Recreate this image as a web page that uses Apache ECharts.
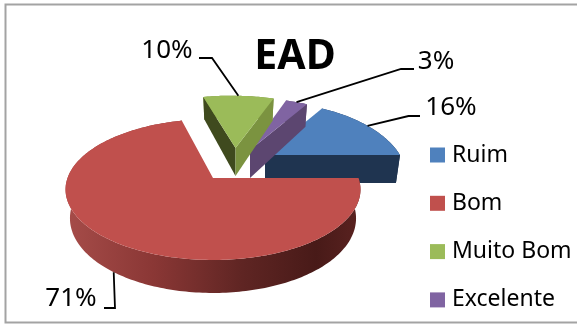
<!DOCTYPE html>
<html>
<head>
<meta charset="utf-8">
<style>html,body{margin:0;padding:0;background:#fff}#c{width:577px;height:325px}</style>
<script src="https://cdn.jsdelivr.net/npm/echarts@6/dist/echarts.min.js"></script>
</head>
<body>
<div id="c"></div>
<script>
var categories = ['Ruim', 'Bom', 'Muito Bom', 'Excelente'];
var percentValues = [16, 71, 10, 3];
var percentLabels = ['16%', '71%', '10%', '3%'];
var sliceColors = ['#4f81bd', '#c0504d', '#9bbb59', '#8064a2'];
var clockwiseOrder = ['Bom', 'Muito Bom', 'Excelente', 'Ruim'];

var FONT = '"Noto Sans", sans-serif';
var total = percentValues.reduce(function (a, b) { return a + b; }, 0);
var sweep = {};
(function () {
  var acc = 0;
  clockwiseOrder.forEach(function (n) {
    var v = percentValues[categories.indexOf(n)];
    sweep[n] = [acc / total * Math.PI * 2, (acc + v) / total * Math.PI * 2];
    acc += v;
  });
})();

var geometry = {
  'Ruim':      { ax: 265,   ay: 155, rx: 135,   ry: 70,   k: 0.32,  s: 0,   z: 1, leader: [[420, 116], [408.5, 116]], text: [451, 108], onBase: false },
  'Excelente': { ax: 250,   ay: 150, rx: 146,   ry: 68,   k: 0.30,  s: 6.5, z: 2, leader: [[414, 69], [401, 69]],     text: [436, 62],  onBase: false },
  'Muito Bom': { ax: 235.5, ay: 148, rx: 146,   ry: 68,   k: 0.30,  s: 4.2, z: 3, leader: [[199, 58], [212, 58]],     text: [167, 51],  onBase: false },
  'Bom':       { ax: 213,   ay: 178, rx: 145.5, ry: 68.6, k: 0.163, s: 0,   z: 4, leader: [[104, 308], [115, 308]],   text: [71, 299],  onBase: true }
};
var faces = {
  'Ruim': [{ end: 1, fill: '#1f3450' }],
  'Excelente': [{ end: 1, fill: '#5c4670' }],
  'Muito Bom': [{ end: 0, fill: '#3f4a1e' }, { end: 1, fill: '#7b9340' }],
  'Bom': []
};
var rimFill = {
  'Ruim': '#1f3450',
  'Excelente': '#5c4670',
  'Muito Bom': '#7b9340',
  'Bom': { type: 'linear', x: 0, y: 0, x2: 1, y2: 0, colorStops: [
    { offset: 0, color: '#a64c49' }, { offset: 0.3, color: '#8a3735' },
    { offset: 0.6, color: '#5f2523' }, { offset: 0.85, color: '#481a18' }, { offset: 1, color: '#5a2220' } ] }
};

function project(g, t, base) {
  var u = Math.cos(t), v = Math.sin(t), w = 1 - g.k * v;
  var dx = g.rx * u / w + g.s * v, dy = g.ry * v / w;
  if (!base) return [g.ax + dx, g.ay + dy];
  return [g.ax + dx * 0.97, g.ay + dy + 28 + (v > 0 ? 5 : 6) * v];
}
function apex(g, base) { return [g.ax, g.ay + (base ? 28 : 0)]; }
function arc(g, a, b, base) {
  var pts = [], n = Math.max(4, Math.ceil((b - a) / 0.02));
  for (var i = 0; i <= n; i++) pts.push(project(g, a + (b - a) * i / n, base));
  return pts;
}
function poly(points, fill) {
  return { type: 'polygon', shape: { points: points }, style: { fill: fill }, silent: true };
}

function renderSlice(name) {
  return function (params, api) {
    var g = geometry[name], sw = sweep[name], a = sw[0], b = sw[1];
    var value = api.value(0);
    var children = [];
    var mid = (a + b) / 2;
    children.push(poly(arc(g, a, b, false).concat(arc(g, a, b, true).reverse()), rimFill[name]));
    faces[name].forEach(function (f) {
      var t = f.end ? b : a;
      children.push(poly([apex(g, false), project(g, t, false), project(g, t, true), apex(g, true)], f.fill));
    });
    children.push(poly([apex(g, false)].concat(arc(g, a, b, false)), api.visual('color')));
    var target = project(g, mid, g.onBase);
    children.push({ type: 'polyline', silent: true,
      shape: { points: g.leader.concat([target]) },
      style: { stroke: '#000', lineWidth: 1.8, fill: null } });
    children.push({ type: 'text', silent: true, x: g.text[0], y: g.text[1],
      style: { text: percentLabels[categories.indexOf(name)], fill: '#000', font: '26px ' + FONT, align: 'center', verticalAlign: 'middle' } });
    return { type: 'group', children: children, info: value };
  };
}

var chart = echarts.init(document.getElementById('c'), null, { renderer: 'canvas' });
chart.setOption({
  animation: false,
  backgroundColor: '#ffffff',
  title: { text: 'EAD', left: 290, top: 32, textAlign: 'center',
    textStyle: { fontFamily: FONT, fontWeight: 'bold', fontSize: 41, color: '#000' } },
  legend: {
    orient: 'vertical', left: 430, top: 140, icon: 'rect', itemWidth: 15, itemHeight: 15,
    itemGap: 18.3, selectedMode: false, padding: 0,
    data: categories,
    textStyle: { fontFamily: FONT, fontSize: 23, color: '#000', lineHeight: 30, padding: [0, 0, 0, 2] }
  },
  graphic: [{ type: 'rect', silent: true, z: -10,
    shape: { x: 5.5, y: 4.5, width: 600, height: 318 },
    style: { fill: '#fff', stroke: '#a3a3a3', lineWidth: 2 } }],
  series: categories.map(function (name, i) {
    return {
      type: 'custom', name: name, coordinateSystem: 'none', z: 2 + geometry[name].z,
      itemStyle: { color: sliceColors[i] },
      data: [[percentValues[i]]],
      renderItem: renderSlice(name)
    };
  })
});
</script>
</body>
</html>
